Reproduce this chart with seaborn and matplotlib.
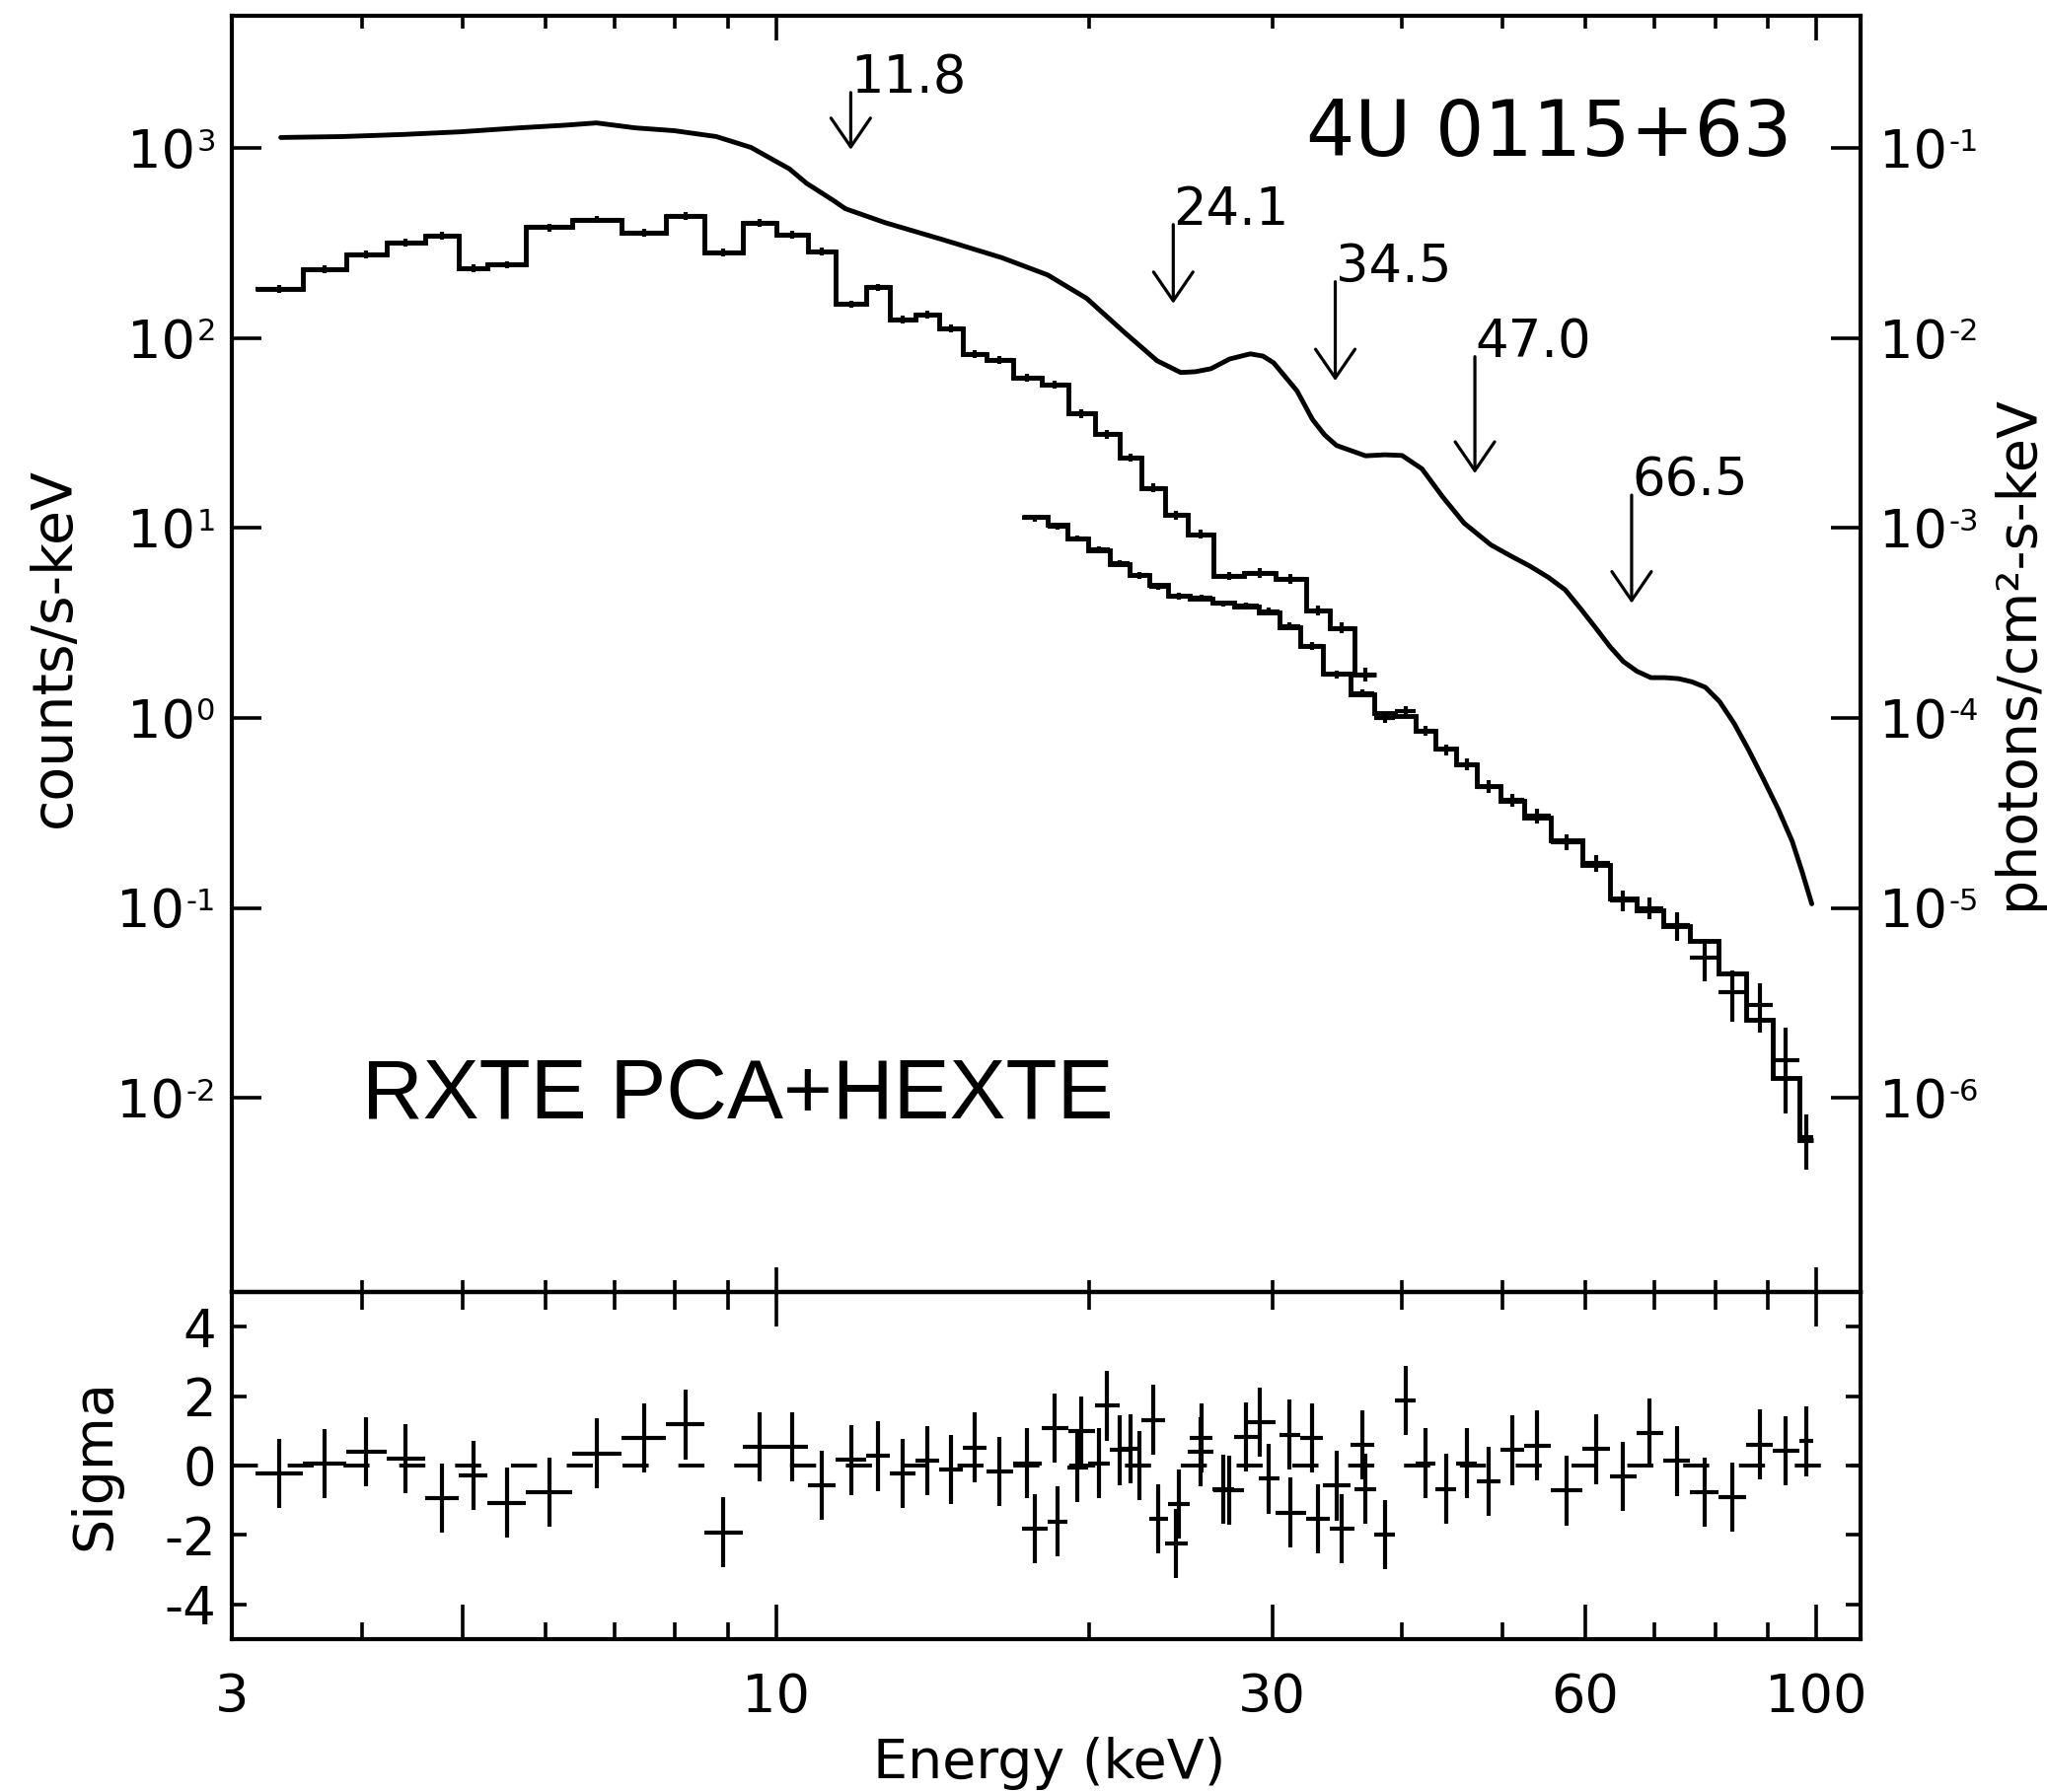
import numpy as np
import pandas as pd
import seaborn as sns
import matplotlib
matplotlib.use('Agg')
import matplotlib.pyplot as plt
from matplotlib.ticker import FixedLocator, NullLocator, NullFormatter, FixedFormatter

# smooth model curve (counts/s-keV)
model_energy = [3.34, 3.83, 4.37, 4.97, 5.66, 6.27, 6.72, 7.32, 7.98, 8.76, 9.46, 10.3, 10.7,
                11.34, 11.66, 12.72, 14.49, 16.49, 18.25, 19.89, 21.68, 23.25, 24.5, 25.3,
                26.2, 27.3, 28.58, 29.4, 30.1, 31.7, 32.8, 33.7, 34.6, 36.9, 38.5, 40.0, 41.8,
                43.8, 45.9, 48.7, 51.0, 53.1, 55.3, 57.4, 59.4, 61.5, 63.4, 65.3, 67.3, 69.4,
                71.6, 73.8, 76.0, 78.3, 80.8, 83.5, 86.2, 89.0, 92.0, 94.9, 97.0, 99.1]
model_counts = [1138, 1151, 1180, 1219, 1279, 1321, 1358, 1279, 1236, 1151, 1009, 778, 653,
                533, 480, 406, 329, 265, 215, 162, 106, 76.0, 65.9, 66.5,
                69.0, 77.6, 82.6, 80.4, 74.1, 52.7, 37.3, 30.9, 27.2, 24.0, 24.3, 24.1, 20.5,
                14.5, 10.6, 8.15, 7.08, 6.30, 5.5, 4.73, 3.76, 2.95, 2.37, 1.98, 1.76, 1.63,
                1.63, 1.61, 1.55, 1.45, 1.22, 0.93, 0.676, 0.479, 0.331, 0.224, 0.155, 0.105]

# PCA spectrum: bin edges (keV), folded model steps, data errors, residuals (sigma)
pca_edges = [3.16, 3.51, 3.86, 4.22, 4.60, 4.95, 5.28, 5.75, 6.37, 7.10, 7.84, 8.53, 9.29,
             10.0, 10.73, 11.42, 12.20, 12.88, 13.62, 14.34, 15.13, 15.93, 16.89, 18.01,
             19.09, 20.27, 21.40, 22.47, 23.67, 24.87, 26.35, 28.2, 30.2, 32.34, 34.06,
             35.97, 37.77]
pca_counts = [181, 231, 277, 317, 345, 233, 244, 383, 421, 360, 441, 282, 406, 351, 285,
              151, 185, 125, 133, 113, 82.6, 76.7, 62.2, 57.2, 40.1, 31.2, 23.5, 16.3, 11.7,
              9.27, 5.6, 5.8, 5.4, 3.69, 2.98, 1.7]
pca_err = [9, 11, 13, 15, 16, 11, 11, 18, 19, 17, 20, 13, 19, 16, 13, 7, 8.5, 6, 6.2, 5.3,
           4, 3.7, 3, 2.8, 2, 1.6, 1.2, 0.85, 0.65, 0.5, 0.3, 0.32, 0.3, 0.22, 0.2, 0.15]
pca_resid = [-0.22, 0.05, 0.4, 0.2, -0.94, -0.28, -1.07, -0.76, 0.35, 0.8, 1.18, -1.92,
             0.54, 0.54, -0.57, 0.16, 0.27, -0.22, 0.14, -0.12, 0.52, -0.17, 0.07, 1.08,
             0.99, 1.72, 0.49, 1.32, -2.25, 0.4, -0.71, 1.25, -1.35, -1.54, -1.82, -0.67]

# HEXTE spectrum
hx_edges = [17.26, 18.25, 19.05, 19.97, 20.95, 21.87, 22.83, 23.83, 25.0, 26.3, 27.6, 29.1,
            30.5, 31.9, 33.6, 35.7, 37.6, 39.4, 41.2, 43.1, 45.1, 47.2, 49.7, 52.4, 55.6,
            59.6, 63.4, 67.2, 71.3, 75.7, 80.6, 85.7, 90.9, 96.4, 99.5]
hx_counts = [11.5, 10.4, 8.83, 7.67, 6.49, 5.64, 5.01, 4.41, 4.25, 4.05, 3.85, 3.6, 3.02,
             2.38, 1.71, 1.33, 1.06, 1.02, 0.855, 0.69, 0.57, 0.44, 0.364, 0.298, 0.228,
             0.169, 0.112, 0.097, 0.08, 0.067, 0.045, 0.0258, 0.0127, 0.006]
hx_data = [11.3, 10.2, 8.8, 7.7, 6.55, 5.64, 4.92, 4.36, 4.3, 4.0, 3.9, 3.65, 3.05, 2.4,
           1.7, 1.35, 1.0, 1.09, 0.855, 0.68, 0.57, 0.435, 0.37, 0.305, 0.222, 0.172, 0.11,
           0.1, 0.081, 0.055, 0.036, 0.031, 0.0158, 0.0062]
hx_err = [0.45, 0.4, 0.35, 0.3, 0.26, 0.22, 0.2, 0.18, 0.17, 0.16, 0.16, 0.15, 0.13, 0.11,
          0.08, 0.07, 0.06, 0.06, 0.05, 0.045, 0.04, 0.033, 0.03, 0.026, 0.021, 0.018,
          0.014, 0.013, 0.014, 0.014, 0.011, 0.009, 0.0075, 0.002]
hx_resid = [-1.82, -1.61, -0.05, 0.07, 0.44, 0.0, -1.54, -1.1, 0.79, -0.69, 0.82, -0.38,
            0.89, 0.79, -0.58, 0.6, -1.99, 1.88, 0.07, -0.67, 0.07, -0.45, 0.44, 0.58,
            -0.72, 0.47, -0.31, 0.93, 0.13, -0.76, -0.91, 0.61, 0.42, 0.7]

# cyclotron line markers: label, arrow top, arrow tip (counts/s-keV)
line_labels = ['11.8', '24.1', '34.5', '47.0', '66.5']
arrow_top = [1963, 396, 198, 79.8, 14.9]
arrow_tip = [982, 152, 59.6, 19.4, 4.02]

left_exps = ['3', '2', '1', '0', '-1', '-2']
right_exps = ['-1', '-2', '-3', '-4', '-5', '-6']
decades = [1e3, 1e2, 1e1, 1e0, 1e-1, 1e-2]


def bin_centers(edges):
    e = np.asarray(edges, dtype=float)
    c = np.sqrt(e[:-1] * e[1:])
    return c, np.vstack([c - e[:-1], e[1:] - c])


sns.set_style('ticks', rc={'axes.edgecolor': 'black', 'xtick.color': 'black',
                           'ytick.color': 'black', 'text.color': 'black',
                           'axes.labelcolor': 'black'})
plt.rcParams['font.family'] = ['DejaVu Sans']

fig = plt.figure(figsize=(20.75, 18.17), dpi=100)
ax = fig.add_axes([0.11349, 0.27903, 0.79542, 0.71216])
ax_res = fig.add_axes([0.11349, 0.08531, 0.79542, 0.19373])
ax_res.patch.set_alpha(0)

lw = 3.5
for a in (ax, ax_res):
    a.set_xscale('log')
    a.set_xlim(3, 110.4)
    for s in a.spines.values():
        s.set_linewidth(3.0)
ax.set_yscale('log')
ax.set_ylim(9.5e-4, 4977)
ax_res.set_ylim(-5, 5)

# --- top panel: model curve, folded model steps, data crosses
curve = pd.DataFrame({'energy': model_energy, 'counts': model_counts})
sns.lineplot(data=curve, x='energy', y='counts', ax=ax, color='black', lw=lw,
             estimator=None, sort=True)
ax.set_xlabel('')
ax.set_ylabel('')

ax.stairs(pca_counts, pca_edges, baseline=None, color='black', lw=lw)
ax.stairs(hx_counts, hx_edges, baseline=None, color='black', lw=lw)
pca_c, pca_xerr = bin_centers(pca_edges)
hx_c, hx_xerr = bin_centers(hx_edges)
ax.errorbar(pca_c, pca_counts, xerr=pca_xerr, yerr=pca_err, fmt='none',
            ecolor='black', elinewidth=3.0, capsize=0)
ax.errorbar(hx_c, hx_data, xerr=hx_xerr, yerr=hx_err, fmt='none',
            ecolor='black', elinewidth=3.0, capsize=0)

for lab, top, tip in zip(line_labels, arrow_top, arrow_tip):
    e = float(lab)
    ax.annotate('', xy=(e, tip), xytext=(e, top),
                arrowprops=dict(arrowstyle='->,head_length=1.05,head_width=0.72',
                                lw=2.3, color='black', shrinkA=0, shrinkB=0,
                                mutation_scale=20))
    ax.text(e, top, lab, ha='left', va='baseline', fontsize=38)

ax.text(0.9576, 0.890, '4U 0115+63', transform=ax.transAxes, ha='right',
        va='baseline', fontsize=56)
ax.text(0.0795, 0.136, 'RXTE PCA+HEXTE', transform=ax.transAxes, ha='left',
        va='baseline', fontsize=61.5, family=['Liberation Sans', 'DejaVu Sans'])

ax.xaxis.set_major_locator(FixedLocator([10, 100]))
ax.xaxis.set_minor_locator(FixedLocator([4, 5, 6, 7, 8, 9, 20, 30, 40, 50, 60, 70, 80, 90]))
ax.xaxis.set_major_formatter(NullFormatter())
ax.xaxis.set_minor_formatter(NullFormatter())
ax.tick_params(axis='x', which='both', direction='in', top=True, bottom=True,
               labelbottom=False, width=2.6)
ax.tick_params(axis='x', which='major', length=18)
ax.tick_params(axis='x', which='minor', length=9)
ax.yaxis.set_major_locator(FixedLocator(decades))
ax.yaxis.set_minor_locator(NullLocator())
ax.tick_params(axis='y', which='major', direction='in', left=True, right=True,
               length=21.6, width=2.6, labelleft=False, labelright=False)

# decade labels with a small raised exponent, on both sides
rend = fig.canvas.get_renderer()
ytrans = ax.get_yaxis_transform()
for v, el, er in zip(decades, left_exps, right_exps):
    sup = ax.annotate(el, xy=(0, v), xycoords=ytrans, xytext=(-12, -1.8),
                      textcoords='offset points', ha='right', va='baseline', fontsize=22)
    w = sup.get_window_extent(rend).width * 72 / fig.dpi
    ax.annotate('10', xy=(0, v), xycoords=ytrans, xytext=(-13 - w, -14.2),
                textcoords='offset points', ha='right', va='baseline', fontsize=39)
    base = ax.annotate('10', xy=(1, v), xycoords=ytrans, xytext=(14, -14.2),
                       textcoords='offset points', ha='left', va='baseline', fontsize=39)
    wb = base.get_window_extent(rend).width * 72 / fig.dpi
    ax.annotate(er, xy=(1, v), xycoords=ytrans, xytext=(15 + wb, -1.8),
                textcoords='offset points', ha='left', va='baseline', fontsize=22)

ax.text(-0.109, 0.505, 'counts/s-keV', transform=ax.transAxes, rotation=90,
        ha='center', va='center', fontsize=41)
ax.text(1.0963, 0.501, 'photons/cm²-s-keV', transform=ax.transAxes, rotation=90,
        ha='center', va='center', fontsize=40)

# --- bottom panel: residuals
ax_res.axhline(0, color='black', lw=2.8, linestyle=(0, (6.8, 7.75)))
ax_res.errorbar(pca_c, pca_resid, xerr=pca_xerr, yerr=1, fmt='none',
                ecolor='black', elinewidth=3.0, capsize=0)
ax_res.errorbar(hx_c, hx_resid, xerr=hx_xerr, yerr=1, fmt='none',
                ecolor='black', elinewidth=3.0, capsize=0)

ax_res.xaxis.set_major_locator(FixedLocator([3, 5, 10, 30, 60, 100]))
ax_res.xaxis.set_major_formatter(FixedFormatter(['3', '', '10', '30', '60', '100']))
ax_res.xaxis.set_minor_locator(FixedLocator([4, 6, 7, 8, 9, 20, 40, 50, 70, 80, 90]))
ax_res.xaxis.set_minor_formatter(NullFormatter())
ax_res.tick_params(axis='x', which='both', direction='in', top=False, bottom=True,
                   width=2.6, labelsize=39, pad=24)
ax_res.tick_params(axis='x', which='major', length=25)
ax_res.tick_params(axis='x', which='minor', length=12)

sec = ax_res.secondary_xaxis('top')
sec.xaxis.set_major_locator(FixedLocator([10, 100]))
sec.xaxis.set_minor_locator(FixedLocator([4, 5, 6, 7, 8, 9, 20, 30, 40, 50, 60, 70, 80, 90]))
sec.xaxis.set_major_formatter(NullFormatter())
sec.xaxis.set_minor_formatter(NullFormatter())
sec.tick_params(which='both', direction='in', width=2.6)
sec.tick_params(which='major', length=25)
sec.tick_params(which='minor', length=13)
sec.spines['top'].set_linewidth(3.0)

ax_res.set_yticks([-4, -2, 0, 2, 4])
ax_res.set_yticklabels(['-4', '-2', '0', '2', '4'])
ax_res.yaxis.set_minor_locator(NullLocator())
ax_res.tick_params(axis='y', direction='in', left=True, right=True, length=11,
                   width=2.6, labelsize=38, pad=12)

ax_res.text(-0.0845, 0.503, 'Sigma', transform=ax_res.transAxes, rotation=90,
            ha='center', va='center', fontsize=40)
ax_res.text(0.502, -0.40, 'Energy (keV)', transform=ax_res.transAxes, ha='center',
            va='baseline', fontsize=40)

fig.savefig('out.png', dpi=100)
